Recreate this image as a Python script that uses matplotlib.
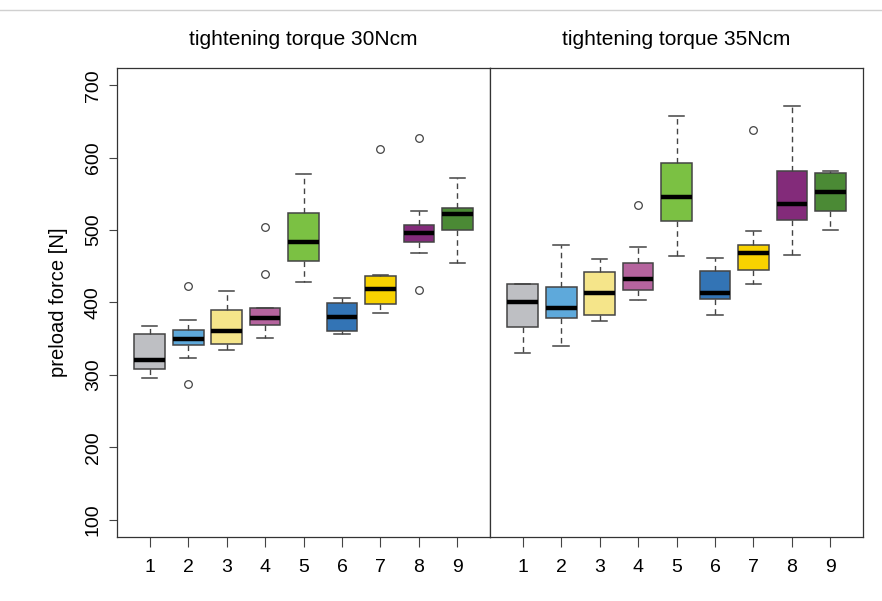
#!/usr/bin/env python3
import matplotlib
matplotlib.use('Agg')
import matplotlib.pyplot as plt
from matplotlib.lines import Line2D

plt.rcParams['font.family'] = ['Liberation Sans', 'DejaVu Sans']

groups = [1, 2, 3, 4, 5, 6, 7, 8, 9]
colors = ['#BEBFC3', '#5EA9DB', '#F5E58A', '#B5649E', '#7BC143',
          '#3374B5', '#F8D200', '#832B7A', '#4B8A35']

# 30 Ncm: lower whisker, q1, median, q3, upper whisker, outliers
lo30 = [296, 323, 334, 351, 428, 356, 385, 469, 455]
q1_30 = [308, 341, 342, 369, 457, 361, 398, 483, 500]
med30 = [320, 349, 361, 378, 484, 380, 419, 496, 522]
q3_30 = [356, 362, 390, 392, 524, 399, 437, 507, 531]
hi30 = [368, 376, 416, 392, 578, 406, 438, 526, 572]
out30 = [[], [423, 287], [], [504, 440], [], [], [612], [627, 417], []]

# 35 Ncm
lo35 = [330, 340, 375, 404, 464, 383, 425, 466, 500]
q1_35 = [366, 378, 383, 417, 512, 405, 445, 514, 526]
med35 = [401, 393, 413, 433, 546, 413, 468, 536, 553]
q3_35 = [425, 422, 442, 455, 593, 443, 479, 581, 579]
hi35 = [426, 480, 460, 476, 657, 462, 499, 671, 581]
out35 = [[], [], [], [535], [], [], [638], [], []]

titles = ['tightening torque 30Ncm', 'tightening torque 35Ncm']
yticks = [100, 200, 300, 400, 500, 600, 700]

fig = plt.figure(figsize=(8.82, 6.01), dpi=100)
ax1 = fig.add_axes([0.1327, 0.1065, 0.4229, 0.7804])
ax2 = fig.add_axes([0.5556, 0.1065, 0.4229, 0.7804])

edge = '#444444'
data = [(lo30, q1_30, med30, q3_30, hi30, out30),
        (lo35, q1_35, med35, q3_35, hi35, out35)]

for ax, d, title in zip([ax1, ax2], data, titles):
    lo, q1, med, q3, hi, out = d
    stats = []
    for i in range(len(groups)):
        stats.append({'whislo': lo[i], 'q1': q1[i], 'med': med[i],
                      'q3': q3[i], 'whishi': hi[i], 'fliers': out[i]})
    bp = ax.bxp(stats, positions=groups, widths=0.8, patch_artist=True,
                showfliers=True, shownotches=False,
                boxprops=dict(edgecolor=edge, linewidth=1.1),
                medianprops=dict(color='black', linewidth=3.2, solid_capstyle='butt'),
                whiskerprops=dict(color=edge, linewidth=1.0, linestyle=(0, (4, 3))),
                capprops=dict(color=edge, linewidth=1.1),
                capwidths=0.4,
                flierprops=dict(marker='o', markersize=5.5, markerfacecolor='none',
                                markeredgecolor=edge, markeredgewidth=0.9))
    for patch, c in zip(bp['boxes'], colors):
        patch.set_facecolor(c)
    ax.set_xlim(0.15, 9.85)
    ax.set_ylim(76, 724)
    ax.set_xticks(groups)
    ax.set_xticklabels([str(g) for g in groups], fontsize=14)
    ax.tick_params(axis='x', length=7, width=0.8, color=edge, pad=9)
    for s in ax.spines.values():
        s.set_color('#333333')
        s.set_linewidth(0.9)
    ax.text(0.5, 1.049, title, transform=ax.transAxes, ha='center',
            va='baseline', fontsize=15)

ax1.set_yticks(yticks)
ax1.set_yticklabels([str(t) for t in yticks], fontsize=14, rotation=90, va='center')
ax1.tick_params(axis='y', length=6, width=0.8, color=edge, pad=5)
ax1.set_ylabel('preload force [N]', fontsize=14.5, labelpad=12)
ax2.set_yticks([])

fig.add_artist(Line2D([0, 1], [0.983, 0.983], transform=fig.transFigure,
                      color='#d0d0d0', linewidth=1.0))

fig.savefig('out.png', dpi=100)
